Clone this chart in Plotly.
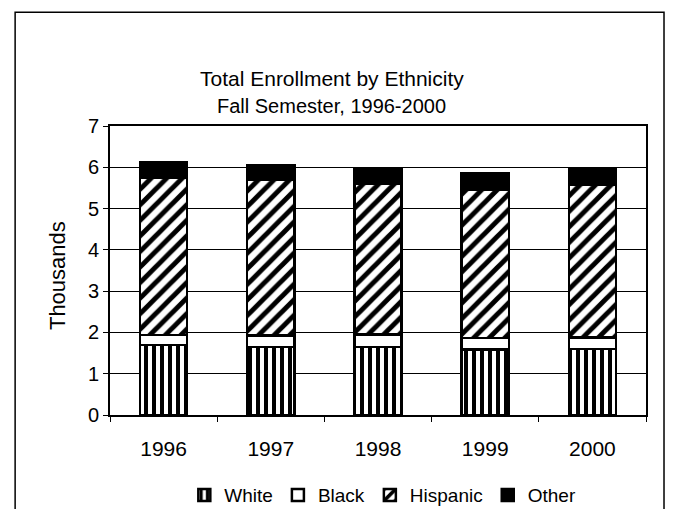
import plotly.graph_objects as go

years = ["1996", "1997", "1998", "1999", "2000"]
white = [1.69, 1.65, 1.65, 1.59, 1.60]
black = [0.25, 0.28, 0.30, 0.28, 0.28]
hispanic = [3.80, 3.76, 3.64, 3.58, 3.69]
other = [0.37, 0.36, 0.36, 0.40, 0.40]
y_ticks = [0, 1, 2, 3, 4, 5, 6, 7]

FONT = "Liberation Sans, Arial, sans-serif"

fig = go.Figure()
fig.add_bar(name="White", x=years, y=white,
            marker=dict(color="white", line=dict(color="black", width=2.5),
                        pattern=dict(shape="|", fgcolor="black", bgcolor="white",
                                     size=8, solidity=0.5, fillmode="replace")))
fig.add_bar(name="Black", x=years, y=black,
            marker=dict(color="white", line=dict(color="black", width=2.5)))
fig.add_bar(name="Hispanic", x=years, y=hispanic,
            marker=dict(color="white", line=dict(color="black", width=2.5),
                        pattern=dict(shape="/", fgcolor="black", bgcolor="white",
                                     size=11, solidity=0.45, fillmode="replace")))
fig.add_bar(name="Other", x=years, y=other,
            marker=dict(color="black", line=dict(color="black", width=2.5)))

fig.update_layout(
    width=657, height=501,
    barmode="stack", bargap=0.56,
    margin=dict(l=102, r=19, t=118, b=94, autoexpand=False),
    paper_bgcolor="white", plot_bgcolor="white",
    font=dict(family=FONT, size=20, color="black"),
    showlegend=True,
    legend=dict(orientation="h", x=0.509, y=-0.277, xanchor="center", yanchor="middle",
                traceorder="normal", font=dict(size=19), itemwidth=30,
                bgcolor="rgba(0,0,0,0)"),
    xaxis=dict(showline=True, linecolor="black", linewidth=2, mirror=True,
               ticks="outside", ticklen=5, tickcolor="black", tickson="boundaries",
               tickfont=dict(size=21), ticklabelstandoff=14, showgrid=False),
    yaxis=dict(range=[0, 7], tickvals=y_ticks, showline=True, linecolor="black",
               linewidth=2, mirror=True, ticks="outside", ticklen=5, tickcolor="black",
               showgrid=True, gridcolor="black", gridwidth=1, tickfont=dict(size=20),
               zeroline=False),
    annotations=[
        dict(text="Total Enrollment by Ethnicity", xref="paper", yref="paper",
             x=0.414, y=1.166, showarrow=False, font=dict(size=21),
             xanchor="center", yanchor="middle"),
        dict(text="Fall Semester, 1996-2000", xref="paper", yref="paper",
             x=0.414, y=1.069, showarrow=False, font=dict(size=20),
             xanchor="center", yanchor="middle"),
        dict(text="Thousands", xref="paper", yref="paper", x=-0.099, y=0.484,
             textangle=-90, showarrow=False, font=dict(size=22),
             xanchor="center", yanchor="middle"),
    ],
    shapes=[dict(type="rect", xref="paper", yref="paper", x0=-0.177, x1=1.0336,
                 y0=-0.40, y1=1.394, line=dict(color="black", width=1.5),
                 fillcolor="rgba(0,0,0,0)", layer="below")],
)

fig.write_html("out.html")
